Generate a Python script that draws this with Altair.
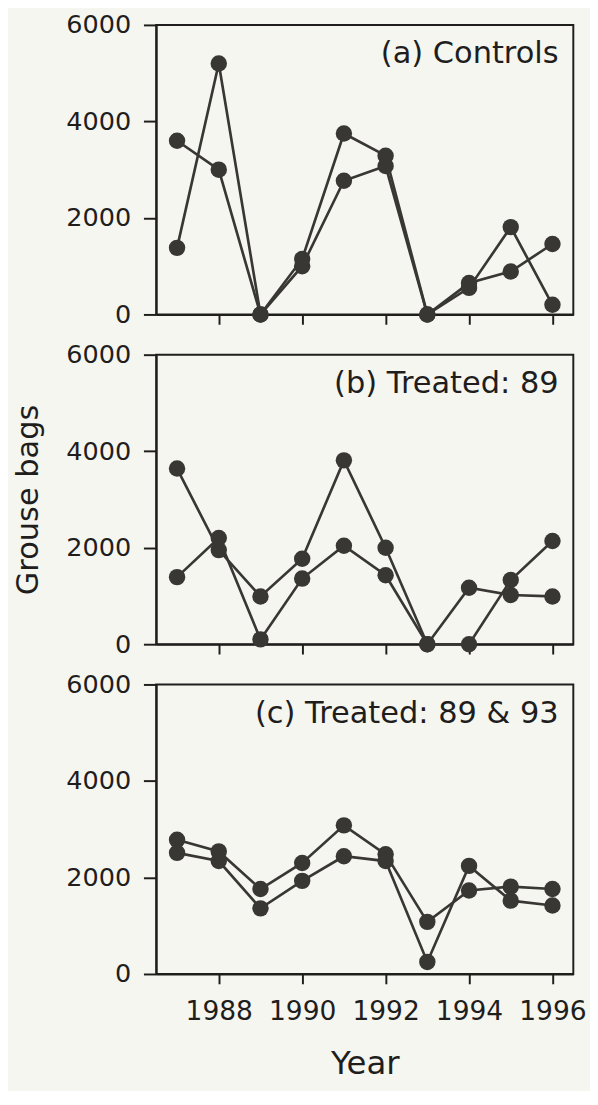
import altair as alt
import pandas as pd

# ---------------- data ----------------
years = [1987, 1988, 1989, 1990, 1991, 1992, 1993, 1994, 1995, 1996]
panel_labels = ["(a) Controls", "(b) Treated: 89", "(c) Treated: 89 & 93"]

controls_site1 = [3600, 3000, 0, 1000, 2770, 3075, 0, 550, 1810, 200]
controls_site2 = [1380, 5200, 0, 1150, 3750, 3290, 0, 650, 890, 1460]

treated89_site1 = [3640, 1950, 990, 1770, 3810, 2000, 0, 1170, 1020, 990]
treated89_site2 = [1390, 2200, 100, 1360, 2040, 1430, 0, 0, 1330, 2140]

treated8993_site1 = [2780, 2540, 1760, 2300, 3080, 2480, 1080, 1730, 1810, 1760]
treated8993_site2 = [2510, 2340, 1360, 1930, 2440, 2340, 250, 2240, 1520, 1420]

year_ticks = [1988, 1990, 1992, 1994, 1996]
bag_ticks = [0, 2000, 4000, 6000]

# ---------------- style ----------------
W, H = 425, 295
FONT = "DejaVu Sans"
INK = "#1f1e1d"
MARK = "#393733"
BG = "#f6f6f1"


def panel(label, s1, s2, bottom=False, ytitle=False):
    df = pd.DataFrame({
        "year": years * 2,
        "bags": s1 + s2,
        "site": ["1"] * len(years) + ["2"] * len(years),
    })
    x_axis = alt.Axis(
        values=year_ticks, format="d", tickSize=10, labels=bottom,
        labelFontSize=27, labelPadding=15, titleFontSize=33,
        titlePadding=24, titleFontWeight="normal",
    )
    y_axis = alt.Axis(
        values=bag_ticks, format="d", tickSize=13, labelPadding=13,
        labelFontSize=26, titleFontSize=31, titlePadding=22,
        titleFontWeight="normal",
    )
    x = alt.X("year:Q", scale=alt.Scale(domain=[1986.5, 1996.5], nice=False, zero=False),
              axis=x_axis, title="Year" if bottom else None)
    y = alt.Y("bags:Q", scale=alt.Scale(domain=[0, 6000], nice=False),
              axis=y_axis, title="Grouse bags" if ytitle else None)
    base = alt.Chart(df)
    lines = base.mark_line(color=MARK, strokeWidth=2.7).encode(x=x, y=y, detail="site:N")
    dots = base.mark_circle(size=280, color=MARK, opacity=1).encode(x=x, y=y, detail="site:N")
    txt = alt.Chart(pd.DataFrame({"label": [label]})).mark_text(
        align="right", baseline="alphabetic", fontSize=31, font=FONT, color=INK
    ).encode(x=alt.value(W - 15), y=alt.value(39), text="label:N")
    return alt.layer(lines, dots, txt).properties(width=W, height=H)


chart = alt.vconcat(
    panel(panel_labels[0], controls_site1, controls_site2),
    panel(panel_labels[1], treated89_site1, treated89_site2, ytitle=True),
    panel(panel_labels[2], treated8993_site1, treated8993_site2, bottom=True),
    spacing=41,
    bounds="flush",
).properties(
    background=BG,
    padding={"top": -7, "left": 3, "right": 2, "bottom": 0},
).configure_view(
    stroke=INK, strokeWidth=2
).configure_axis(
    grid=False, domainColor=INK, domainWidth=2, tickColor=INK, tickWidth=2,
    labelFont=FONT, titleFont=FONT, labelColor=INK, titleColor=INK,
)

chart.save("out.html", embed_options={"renderer": "svg", "actions": False})
